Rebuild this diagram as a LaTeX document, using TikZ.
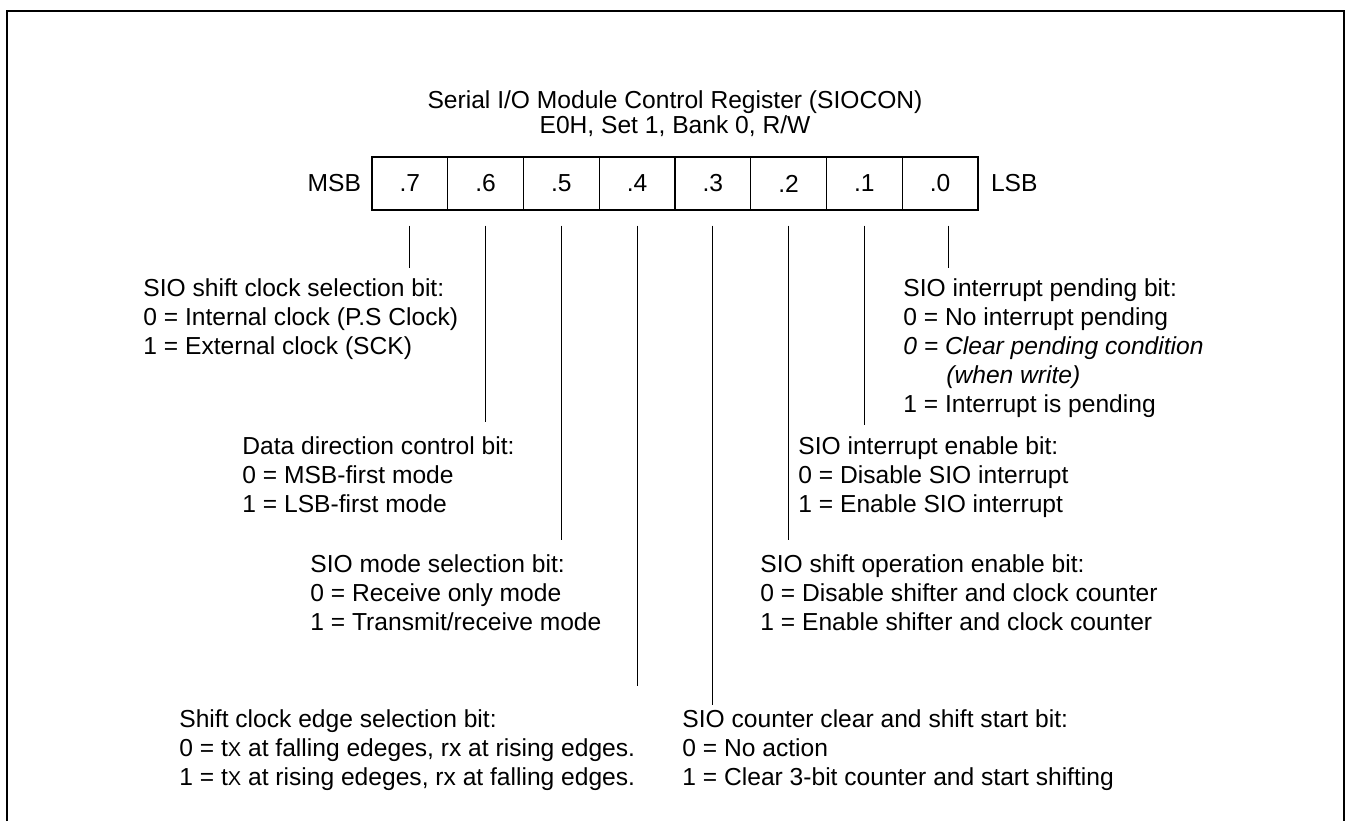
\documentclass[tikz,border=0pt]{standalone}
\usepackage{fontspec}
\setmainfont{Liberation Sans}
\usetikzlibrary{positioning}

\begin{document}
\begin{tikzpicture}[x=0.5pt,y=-0.5pt,
        cell/.style={draw, rectangle, minimum width=37.875pt, minimum height=26.5pt, inner sep=0pt, line width=0.6pt, font=\fontsize{12.3}{14.5}\selectfont},
        desc/.style={anchor=north west, align=left, inner sep=0pt, font=\fontsize{12.3}{14.5}\selectfont},
        lead/.style={line width=0.6pt}
    ]
        \useasboundingbox (0,0) rectangle (1346,821);
        % open frame (no bottom edge)
        \draw[line width=1.25pt] (7,821) -- (7,11) -- (1344,11) -- (1344,821);

        \node[align=center, inner sep=0pt, font=\fontsize{12.3}{11}\selectfont] (title) at (675,114) {
            Serial I/O Module Control Register (SIOCON) \\
            E0H, Set 1, Bank 0, R/W
        };

        % register cells .7 ... .0
        \foreach \b [count=\i from 0] in {7,...,0}
            \node[cell] (b\b) at ({409.875+75.75*\i},183.5) {.\b};

        \node[desc, anchor=east, left=5pt of b7] (msb) {MSB};
        \node[desc, anchor=west, right=6pt of b0] (lsb) {LSB};

        \node[desc] (t7) at (143,278) {
            SIO shift clock selection bit: \\
            0 = Internal clock (P.S Clock) \\
            1 = External clock (SCK)
        };
        \node[desc] (t6) at (242,436) {
            Data direction control bit: \\
            0 = MSB-first mode \\
            1 = LSB-first mode
        };
        \node[desc] (t5) at (310,554) {
            SIO mode selection bit: \\
            0 = Receive only mode \\
            1 = Transmit/receive mode
        };
        \node[desc] (t4) at (179,709) {
            Shift clock edge selection bit: \\
            0 = t{\fontsize{10}{10}\selectfont X} at falling edeges, rx at rising edges. \\
            1 = t{\fontsize{10}{10}\selectfont X} at rising edeges, rx at falling edges.
        };
        \node[desc] (t3) at (682,709) {
            SIO counter clear and shift start bit: \\
            0 = No action \\
            1 = Clear 3-bit counter and start shifting
        };
        \node[desc] (t2) at (760,554) {
            SIO shift operation enable bit: \\
            0 = Disable shifter and clock counter \\
            1 = Enable shifter and clock counter
        };
        \node[desc] (t1) at (798,436) {
            SIO interrupt enable bit: \\
            0 = Disable SIO interrupt \\
            1 = Enable SIO interrupt
        };
        \node[desc] (t0) at (903,278) {
            SIO interrupt pending bit: \\
            0 = No interrupt pending \\
            \textit{0 = Clear pending condition} \\
            \hspace*{21.5pt}\textit{(when write)} \\
            1 = Interrupt is pending
        };

        % leader lines from each bit down to its description
        \foreach \b/\gap/\dx in {7/5/0, 6/7/0, 5/7/0, 4/11.5/0, 3/2/0, 2/7/0, 1/5.5/0, 0/5/4}
            \draw[lead] ([xshift=\dx pt, yshift=-7.5pt]b\b.south) -- ([xshift=\dx pt, yshift=\gap pt]b\b.south |- t\b.north);
    \end{tikzpicture}
\end{document}
